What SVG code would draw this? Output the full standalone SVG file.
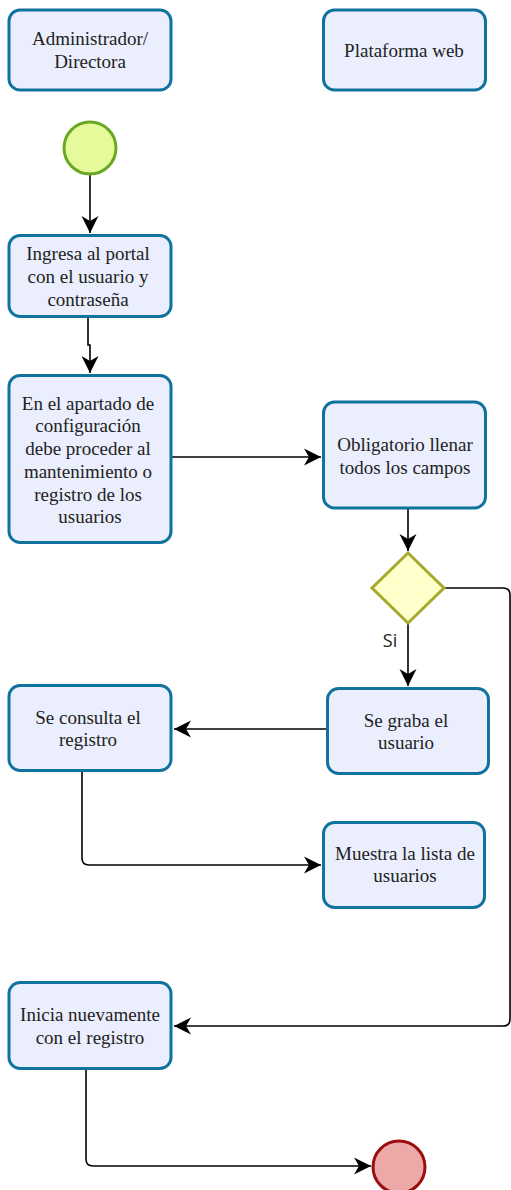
<svg xmlns="http://www.w3.org/2000/svg" width="511" height="1190" viewBox="0 0 511 1190">
<defs>
<style>
.box{fill:#EAEEFD;stroke:#10739E;stroke-width:3}
.t{font-family:"Liberation Serif","Times New Roman",serif;font-size:19px;fill:#222;text-anchor:middle;dominant-baseline:central}
.c{fill:none;stroke:#000;stroke-width:1.6}
.lbl{font-family:"Open Sans","DejaVu Sans",sans-serif;font-size:18px;fill:#222;text-anchor:middle;dominant-baseline:central}
</style>
<marker id="arr" markerUnits="userSpaceOnUse" markerWidth="20" markerHeight="22" refX="17" refY="10" orient="auto">
<path d="M17,10 L0,1.5 L5,10 L0,18.5 Z" fill="#000"/>
</marker>
</defs>
<rect width="511" height="1190" fill="#fff"/>
<g id="connectors">
<path class="c" d="M90,175 L90,233" marker-end="url(#arr)"/>
<path class="c" d="M88,317 L88,345 L90,345 L90,373" marker-end="url(#arr)"/>
<path class="c" d="M172,457 L321,457" marker-end="url(#arr)"/>
<path class="c" d="M408,508 L408,551" marker-end="url(#arr)"/>
<path class="c" d="M408,623 L408,686" marker-end="url(#arr)"/>
<path class="c" d="M327,729 L174,729" marker-end="url(#arr)"/>
<path class="c" d="M82,771 L82,858 Q82,865 89,865 L321,865" marker-end="url(#arr)"/>
<path class="c" d="M444,588 L503,588 Q510,588 510,595 L510,1019 Q510,1026 503,1026 L174,1026" marker-end="url(#arr)"/>
<path class="c" d="M86,1069 L86,1159 Q86,1166 93,1166 L371,1166" marker-end="url(#arr)"/>
<text class="lbl" x="390" y="640">Si</text>
</g>
<g id="n-admin"><rect class="box" x="9" y="10" width="162" height="80" rx="11"/><text class="t" x="90" y="38">Administrador/</text><text class="t" x="90" y="61">Directora</text></g>
<g id="n-plataforma"><rect class="box" x="323.5" y="10" width="162" height="80" rx="11"/><text class="t" x="404" y="50">Plataforma web</text></g>
<g id="n-start"><circle cx="90" cy="148" r="26" fill="#E4FA9B" stroke="#6AA823" stroke-width="3"/></g>
<g id="n-ingresa"><rect class="box" x="9" y="235.5" width="162" height="81" rx="11"/><text class="t" x="88" y="253">Ingresa al portal</text><text class="t" x="88" y="276">con el usuario y</text><text class="t" x="88" y="299">contraseña</text></g>
<g id="n-apartado"><rect class="box" x="9" y="375.5" width="162" height="167" rx="11"/><text class="t" x="88" y="403">En el apartado de</text><text class="t" x="88" y="425.5">configuración</text><text class="t" x="88" y="448.5">debe proceder al</text><text class="t" x="88" y="471">mantenimiento o</text><text class="t" x="88" y="494">registro de los</text><text class="t" x="90" y="516.5">usuarios</text></g>
<g id="n-obligatorio"><rect class="box" x="323.5" y="402" width="162" height="106" rx="11"/><text class="t" x="405" y="444">Obligatorio llenar</text><text class="t" x="405" y="467">todos los campos</text></g>
<g id="n-decision"><polygon points="408,553 444,588 408,623 372,588" fill="#FFFFCC" stroke="#A8A82C" stroke-width="3"/></g>
<g id="n-graba"><rect class="box" x="327.5" y="688.5" width="161" height="85" rx="11"/><text class="t" x="406" y="720">Se graba el</text><text class="t" x="406" y="742">usuario</text></g>
<g id="n-consulta"><rect class="box" x="9" y="685.5" width="162" height="85" rx="11"/><text class="t" x="88" y="717">Se consulta el</text><text class="t" x="88" y="739">registro</text></g>
<g id="n-muestra"><rect class="box" x="323.5" y="822.5" width="161" height="85" rx="11"/><text class="t" x="405" y="853">Muestra la lista de</text><text class="t" x="405" y="875">usuarios</text></g>
<g id="n-inicia"><rect class="box" x="9" y="982.5" width="162" height="86" rx="11"/><text class="t" x="90" y="1014">Inicia nuevamente</text><text class="t" x="90" y="1037">con el registro</text></g>
<g id="n-end"><circle cx="399" cy="1167" r="26" fill="#EDA8A8" stroke="#990E0E" stroke-width="3"/></g>
</svg>
